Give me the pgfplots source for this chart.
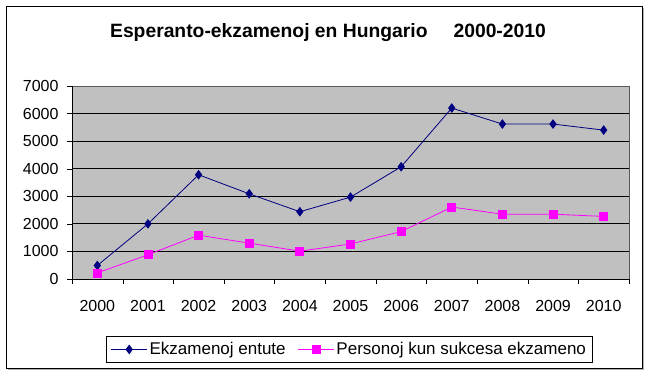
\documentclass[border=0pt]{standalone}
\usepackage{pgfplots}
\pgfplotsset{compat=1.18}
\usepackage{fontspec}
\setmainfont{Liberation Sans}
\definecolor{navyx}{RGB}{0,0,128}
\definecolor{magx}{RGB}{255,0,255}
\definecolor{plotgray}{RGB}{192,192,192}
\begin{document}
\begin{tikzpicture}[x=1pt,y=1pt]
\useasboundingbox (0,0) rectangle (650,377);
\fill[white] (0,0) rectangle (650,377);
\fill[gray!60] (8,7) rectangle (644,369);
\filldraw[fill=white,draw=black,line width=0.8pt] (6,9) rectangle (642,371);
\node[font=\bfseries\fontsize{19.3}{23}\selectfont] at (328,344) {Esperanto-ekzamenoj en Hungario\hspace{26pt}2000-2010};
\begin{axis}[
  at={(72pt,98pt)}, anchor=south west,
  scale only axis, width=557pt, height=193pt,
  xmin=-0.5, xmax=10.5, ymin=0, ymax=7000,
  axis background/.style={fill=plotgray},
  axis line style={draw=none},
  xtick={0,...,10},
  xticklabels={2000,2001,2002,2003,2004,2005,2006,2007,2008,2009,2010},
  major x tick style={draw=none},
  minor xtick={-0.5,0.5,...,10.5},
  minor x tick style={black},
  minor tick length=5pt,
  ytick={0,1000,...,7000},
  ymajorgrids, grid style={black, line width=0.8pt},
  major y tick style={black},
  major tick length=5pt,
  tick align=outside,
  xtick pos=bottom, ytick pos=left,
  tick label style={font=\fontsize{16}{18}\selectfont},
  /pgf/number format/assume math mode=true,
  /pgf/number format/1000 sep={},
  xticklabel style={yshift=-13pt},
  yticklabel style={xshift=-5pt},
  legend columns=2,
  legend image code/.code={\draw[mark repeat=2,mark phase=2] plot coordinates {(0pt,0pt)(18pt,0pt)(36pt,0pt)};},
  legend style={at={(0.498,-0.365)}, anchor=center, draw=black, fill=white, line width=0.8pt,
    font=\fontsize{17}{19}\selectfont, /tikz/every even column/.append style={column sep=10pt},
    inner xsep=4pt, inner ysep=4pt},
  legend cell align=left,
  clip=false,
]
\draw[gray!70!black] (rel axis cs:0,1) -- (rel axis cs:1,1) -- (rel axis cs:1,0);
\draw[black] (rel axis cs:0,1) -- (rel axis cs:0,0) -- (rel axis cs:1,0);
\addplot[navyx, line width=0.8pt, mark=diamond*, mark size=4.2pt, mark options={fill=navyx,draw=navyx}]
  coordinates {(0,490) (1,2000) (2,3780) (3,3090) (4,2440) (5,2970) (6,4070) (7,6200) (8,5620) (9,5620) (10,5400)};
\addlegendentry{Ekzamenoj entute}
\addplot[magx, line width=0.8pt, mark=square*, mark size=4pt, mark options={fill=magx,draw=magx}]
  coordinates {(0,220) (1,880) (2,1590) (3,1300) (4,1010) (5,1270) (6,1720) (7,2610) (8,2350) (9,2350) (10,2270)};
\addlegendentry{Personoj kun sukcesa ekzameno}
\end{axis}
\end{tikzpicture}
\end{document}
